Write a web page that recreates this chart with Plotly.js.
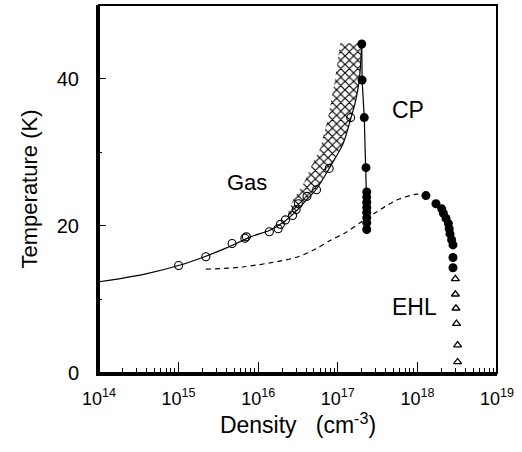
<!DOCTYPE html>
<html>
<head>
<meta charset="utf-8">
<script src="https://cdn.plot.ly/plotly-3.0.1.min.js"></script>
<style>html,body{margin:0;padding:0;background:#fff;}#plot{width:522px;height:452px;}</style>
</head>
<body>
<div id="plot"></div>
<script>
// Gas phase: open circles (density cm^-3, temperature K)
const gasDensity = [1.0e15, 2.2e15, 4.7e15, 6.8e15, 7.1e15, 1.38e16, 1.78e16, 1.9e16, 2.2e16, 2.7e16, 3.0e16, 3.2e16, 4.1e16, 5.4e16, 7.8e16, 1.45e17];
const gasTemp    = [14.6, 15.8, 17.6, 18.3, 18.5, 19.2, 19.6, 20.2, 20.8, 21.4, 22.2, 23.0, 24.0, 24.9, 27.8, 34.7];

// Gas boundary solid curve
const gasCurveDensity = [1e14, 2e14, 4e14, 1e15, 2e15, 4e15, 8e15, 1.4e16, 2.2e16, 3.2e16, 4.1e16, 5.4e16, 7.9e16, 1.17e17, 1.45e17, 1.66e17, 1.86e17, 2.0e17];
const gasCurveTemp    = [12.4, 12.9, 13.5, 14.6, 15.7, 17.0, 18.5, 19.4, 20.7, 22.3, 23.6, 25.0, 27.9, 31.2, 34.5, 36.8, 39.8, 44.7];

// Hatched region (outline)
const hatchDensity = [2.4e16, 2.75e16, 3.7e16, 4.7e16, 6.0e16, 7.6e16, 9.2e16, 1.07e17, 2.0e17, 1.86e17, 1.66e17, 1.45e17, 1.17e17, 7.9e16, 5.4e16, 4.1e16, 3.2e16, 2.4e16];
const hatchTemp    = [22.0, 23.5, 25.7, 28.2, 30.5, 34.8, 39.8, 44.8, 44.8, 39.8, 36.8, 34.5, 31.2, 27.9, 25.0, 23.6, 22.3, 21.2];

// Critical-point branch: filled circles
const cpDensity = [2.0e17, 2.02e17, 2.15e17, 2.26e17, 2.31e17, 2.31e17, 2.31e17, 2.31e17, 2.31e17, 2.31e17, 2.31e17, 2.31e17];
const cpTemp    = [44.7, 39.8, 34.7, 27.9, 24.6, 23.9, 23.2, 22.5, 21.8, 21.1, 20.4, 19.5];

// Electron-hole liquid: filled circles
const ehlDensity = [1.28e18, 1.71e18, 2.02e18, 2.12e18, 2.29e18, 2.45e18, 2.51e18, 2.57e18, 2.69e18, 2.8e18, 2.8e18, 2.8e18];
const ehlTemp    = [24.1, 23.0, 22.3, 21.7, 21.0, 20.3, 19.6, 18.9, 18.1, 17.4, 15.7, 14.3];

// Electron-hole liquid: open triangles
const triDensity = [3.0e18, 3.0e18, 3.05e18, 3.1e18, 3.2e18, 3.2e18];
const triTemp    = [12.8, 10.7, 8.8, 6.7, 3.8, 1.5];

// Dashed curve
const dashDensity = [2.2e15, 6.3e15, 1.86e16, 3.2e16, 5.4e16, 8.0e16, 1.26e17, 1.9e17, 3.1e17, 5.5e17, 9.8e17, 1.26e18];
const dashTemp    = [14.1, 14.4, 15.2, 15.8, 16.9, 18.0, 19.1, 20.4, 21.9, 23.5, 24.3, 24.1];

// Axis ticks
const xTickVals = [1e14, 1e15, 1e16, 1e17, 1e18, 1e19];
const xTickText = ['10<sup>14</sup>', '10<sup>15</sup>', '10<sup>16</sup>', '10<sup>17</sup>', '10<sup>18</sup>', '10<sup>19</sup>'];
const yTickVals = [0, 20, 40];
const yTickText = ['0', '20', '40'];
const yMinorVals = [10, 30];

const xMinorVals = [];
for (let d = 0; d < xTickVals.length - 1; d++) {
  for (let m = 2; m <= 9; m++) xMinorVals.push(xTickVals[d] * m);
}

const FONT = 'Liberation Sans, Arial, Helvetica, sans-serif';

const traces = [
  {
    x: hatchDensity, y: hatchTemp, mode: 'lines', fill: 'toself',
    fillcolor: 'white',
    fillpattern: {shape: 'x', size: 6, solidity: 0.35, fgcolor: 'black', bgcolor: 'white'},
    line: {width: 0, color: 'rgba(0,0,0,0)'}, hoverinfo: 'skip', showlegend: false
  },
  {
    x: gasCurveDensity, y: gasCurveTemp, mode: 'lines',
    line: {color: 'black', width: 1.2, shape: 'spline', smoothing: 0.8}, showlegend: false
  },
  {
    x: dashDensity, y: dashTemp, mode: 'lines',
    line: {color: 'black', width: 1.2, dash: '5px,4px', shape: 'spline', smoothing: 0.8}, showlegend: false
  },
  {
    x: gasDensity, y: gasTemp, mode: 'markers',
    marker: {symbol: 'circle-open', size: 8, color: 'black', line: {width: 1.1, color: 'black'}}, showlegend: false
  },
  {
    x: cpDensity, y: cpTemp, mode: 'lines+markers',
    line: {color: 'black', width: 1.2},
    marker: {symbol: 'circle', size: 9, color: 'black'}, showlegend: false
  },
  {
    x: ehlDensity, y: ehlTemp, mode: 'markers',
    marker: {symbol: 'circle', size: 9, color: 'black'}, showlegend: false
  },
  {
    x: triDensity, y: triTemp, mode: 'markers',
    marker: {symbol: 'triangle-up-open', size: 7, color: 'black', line: {width: 1.3, color: 'black'}}, showlegend: false
  }
];

const layout = {
  width: 522, height: 452,
  margin: {l: 99, r: 25, t: 5, b: 79},
  paper_bgcolor: 'white', plot_bgcolor: 'white',
  font: {family: FONT, color: 'black'},
  showlegend: false,
  xaxis: {
    type: 'log', range: [14, 19],
    tickmode: 'array', tickvals: xTickVals, ticktext: xTickText,
    ticks: 'inside', ticklen: 11, tickwidth: 1, tickcolor: 'black',
    minor: {tickvals: xMinorVals, ticks: 'inside', ticklen: 5, tickwidth: 1, tickcolor: 'black', showgrid: false},
    tickfont: {family: FONT, size: 18, color: 'black'},
    ticklabelstandoff: 7,
    showgrid: false, zeroline: false,
    showline: true, linewidth: 3, linecolor: 'black',
    title: {text: 'Density\u00a0\u00a0\u00a0(cm<sup>-3</sup>)', font: {family: FONT, size: 23, color: 'black'}, standoff: 8}
  },
  yaxis: {
    range: [0, 50],
    tickmode: 'array', tickvals: yTickVals, ticktext: yTickText,
    ticks: 'inside', ticklen: 7, tickwidth: 1, tickcolor: 'black',
    minor: {tickvals: yMinorVals, ticks: 'inside', ticklen: 3, tickwidth: 1, tickcolor: 'black', showgrid: false},
    tickfont: {family: FONT, size: 20, color: 'black'},
    ticklabelstandoff: 13,
    showgrid: false, zeroline: false,
    showline: true, linewidth: 3, linecolor: 'black',
    title: {text: 'Temperature (K)', font: {family: FONT, size: 22, color: 'black'}, standoff: 14}
  },
  shapes: [
    {type: 'rect', xref: 'paper', yref: 'paper', x0: 0, x1: 1, y0: 0, y1: 1,
     line: {color: 'black', width: 2}, layer: 'above'}
  ],
  annotations: [
    {text: 'Gas', x: 15.86, y: 25.9, xref: 'x', yref: 'y', showarrow: false,
     font: {family: FONT, size: 22, color: 'black'}},
    {text: 'CP', x: 17.88, y: 35.8, xref: 'x', yref: 'y', showarrow: false,
     font: {family: FONT, size: 23, color: 'black'}},
    {text: 'EHL', x: 17.96, y: 9.0, xref: 'x', yref: 'y', showarrow: false,
     font: {family: FONT, size: 23, color: 'black'}}
  ]
};

Plotly.newPlot('plot', traces, layout, {staticPlot: true, displayModeBar: false});
</script>
</body>
</html>
